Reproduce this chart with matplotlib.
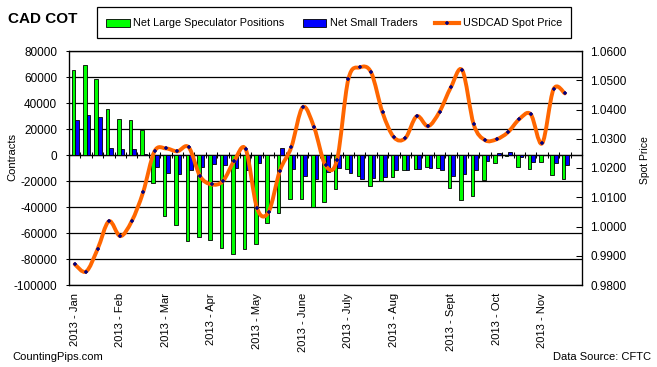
import numpy as np
import matplotlib
matplotlib.use("Agg")
from matplotlib import pyplot as plt
from matplotlib.path import Path
from matplotlib.patches import PathPatch, Patch, Rectangle
from matplotlib.lines import Line2D
from matplotlib.ticker import FuncFormatter, NullFormatter

plt.rcParams['font.family'] = ['Liberation Sans', 'DejaVu Sans']

# weekly COT data, 2013
large_spec = [65000, 69000, 58500, 35500, 27500, 27000, 19500, -21500, -47000, -54000,
              -66000, -63000, -65500, -71500, -76000, -72500, -68500, -52500, -44500, -34000,
              -34000, -40000, -36000, -26000, -11000, -16000, -24000, -20000, -17000, -11500,
              -11000, -9000, -10000, -25500, -34500, -31500, -19000, -6000, -800, -9000,
              -11000, -5500, -15500, -18500]
small_traders = [27000, 31000, 29000, 5500, 4500, 5000, 1000, -9000, -13500, -14500,
                 -11500, -9000, -7000, -8000, -10000, -11500, -6300, 0, 5500, -10500,
                 -16500, -18500, -13000, -10000, -14000, -18500, -17500, -17000, -11500, -11500,
                 -11000, -10000, -11500, -16000, -14500, -11500, -4500, 1500, 2500, -1500,
                 -5500, 0, -6000, -7500]
spot_price = [0.9871, 0.9846, 0.9922, 1.0018, 0.9967, 1.0018, 1.0117, 1.0257, 1.0267, 1.0257,
              1.0271, 1.0172, 1.0144, 1.0155, 1.0225, 1.0264, 1.0062, 1.0049, 1.0191, 1.0271,
              1.0408, 1.0339, 1.0209, 1.0226, 1.0503, 1.0544, 1.0527, 1.0390, 1.0305, 1.0302,
              1.0377, 1.0343, 1.0392, 1.0476, 1.0534, 1.0349, 1.0295, 1.0298, 1.0322, 1.0367,
              1.0384, 1.0284, 1.0469, 1.0455]
n_categories = 45  # last category is empty
month_pos = [0, 4, 8, 12, 16, 20, 24, 28, 33, 37, 41]
month_labels = ['2013 - Jan', '2013 - Feb', '2013 - Mar', '2013 - Apr', '2013 - May',
                '2013 - June', '2013 - July', '2013 - Aug', '2013 - Sept', '2013 - Oct',
                '2013 - Nov']

GREEN = '#00FF00'
BLUE = '#0000FF'
ORANGE = '#FF6600'
NAVY = '#000080'

W, H = 657, 367
fig = plt.figure(figsize=(W / 100, H / 100), dpi=100)
ax = fig.add_axes([69 / W, 1 - 285 / H, 513 / W, 234 / H])

x = np.arange(len(large_spec))
ax.bar(x - 0.12, large_spec, width=0.32, color=GREEN, edgecolor='black', linewidth=0.6)
ax.bar(x + 0.2, small_traders, width=0.32, color=BLUE, edgecolor='black', linewidth=0.6)

ymin, ymax = -100000, 80000
ax.set_ylim(ymin, ymax)
ax.set_xlim(-0.5, n_categories - 0.5)
ax.set_yticks(np.arange(ymin, ymax + 1, 20000))
ax.yaxis.set_major_formatter(FuncFormatter(lambda v, p: '%d' % v))
ax.grid(axis='y', color='black', linewidth=0.9)
ax.set_axisbelow(True)
ax.tick_params(axis='y', direction='out', length=2, pad=6.6, labelsize=8.5, width=0.75)
ax.set_xticks(month_pos, month_labels, rotation=90)
ax.tick_params(axis='x', length=0, pad=5.8, labelsize=8)
for s in ax.spines.values():
    s.set_linewidth(0.9)

# zero line with category tick marks
sec = ax.secondary_xaxis((0 - ymin) / (ymax - ymin))
sec.set_xticks(np.arange(-0.5, n_categories, 1))
sec.xaxis.set_major_formatter(NullFormatter())
sec.tick_params(axis='x', which='both', direction='inout', length=4.5, width=0.75,
                labeltop=False, labelbottom=False)
for s in sec.spines.values():
    s.set_linewidth(0.9)

# spot price on right axis, smoothed like Excel
ax2 = ax.twinx()
ax2.set_ylim(0.98, 1.06)
ax2.set_yticks(np.arange(0.98, 1.0601, 0.01))
ax2.yaxis.set_major_formatter(FuncFormatter(lambda v, p: '%.4f' % v))
ax2.tick_params(axis='y', direction='in', length=4, pad=5.8, labelsize=8.5, width=0.75)

pts = np.column_stack([x, spot_price])
n = len(pts)
verts = [pts[0]]
codes = [Path.MOVETO]
for i in range(n - 1):
    p0 = pts[max(i - 1, 0)]
    p1 = pts[i]
    p2 = pts[i + 1]
    p3 = pts[min(i + 2, n - 1)]
    verts += [p1 + (p2 - p0) / 6, p2 - (p3 - p1) / 6, p2]
    codes += [Path.CURVE4] * 3
ax2.add_patch(PathPatch(Path(verts, codes), facecolor='none', edgecolor=ORANGE,
                        linewidth=2.8, capstyle='round', joinstyle='round'))
ax2.plot(x, spot_price, linestyle='none', marker='+', color=NAVY, markersize=3.5,
         markeredgewidth=1.1)

# texts
fig.text(7.6 / W, 1 - 19 / H, 'CAD COT', fontsize=11, fontweight='bold', va='center', ha='left')
fig.text(12.5 / W, 1 - 157 / H, 'Contracts', fontsize=8, rotation=90, va='center', ha='center')
fig.text(645 / W, 1 - 160 / H, 'Spot Price', fontsize=7.5, rotation=90, va='center', ha='center')
fig.text(12 / W, 1 - 357 / H, 'CountingPips.com', fontsize=8, va='center', ha='left')
fig.text(651 / W, 1 - 357 / H, 'Data Source: CFTC', fontsize=8, va='center', ha='right')

# legend
fig.patches.append(Rectangle((96.8 / W, 1 - 38 / H), 474.6 / W, 31 / H, transform=fig.transFigure,
                             facecolor='white', edgecolor='black', linewidth=0.9))
handles = [Patch(facecolor=GREEN, edgecolor='black', linewidth=0.6),
           Patch(facecolor=BLUE, edgecolor='black', linewidth=0.6),
           Line2D([], [], color=ORANGE, linewidth=3, marker='+', markeredgecolor=NAVY,
                  markersize=3.5, markeredgewidth=1.1)]
fig.legend(handles, ['Net Large Speculator Positions', 'Net Small Traders', 'USDCAD Spot Price'],
           loc='center', bbox_to_anchor=(334.1 / W, 1 - 23.5 / H), ncol=3, frameon=False,
           fontsize=7.8, handlelength=2.2, handleheight=0.8, handletextpad=0.33,
           columnspacing=1.65, borderpad=0)

fig.savefig('out.png', dpi=100)
